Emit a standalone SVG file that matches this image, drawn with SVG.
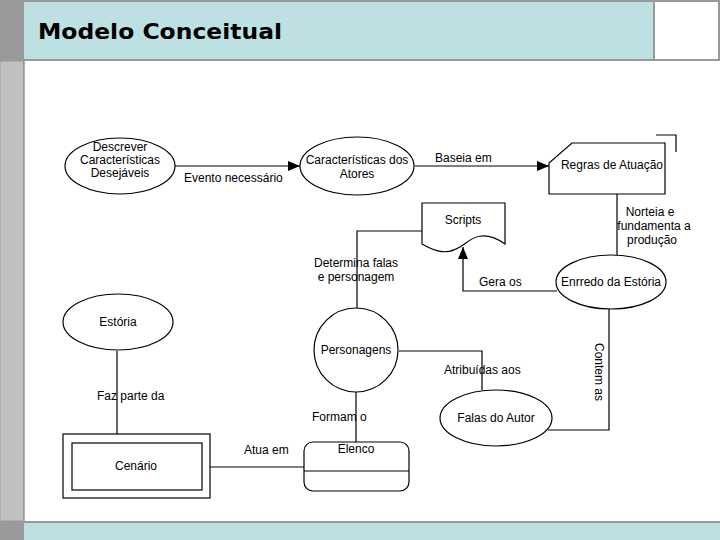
<svg xmlns="http://www.w3.org/2000/svg" width="720" height="540" viewBox="0 0 720 540">
<style>
.ln{fill:none;stroke:#000;stroke-width:1.2}
.shp{fill:#fff;stroke:#000;stroke-width:1.2}
.t{font-family:"Liberation Sans",Arial,sans-serif;font-size:12px;fill:#000;text-anchor:middle}
.tl{font-family:"Liberation Sans",Arial,sans-serif;font-size:12px;fill:#000}
</style>
<defs>
<marker id="arr" viewBox="0 0 12 10" refX="12" refY="5" markerWidth="12" markerHeight="10" markerUnits="userSpaceOnUse" orient="auto">
<path d="M0,0 L12,5 L0,10 Z" fill="#000"/>
</marker>
</defs>
<g id="frame">
<rect x="0" y="0" width="720" height="540" fill="#fff"/>
<rect x="0" y="0" width="24" height="61" fill="#999"/>
<rect x="0" y="61" width="24" height="460" fill="#c0c0c0" stroke="#999" stroke-width="1"/>
<rect x="0" y="521" width="24" height="19" fill="#999"/>
<rect x="24" y="2" width="630" height="57" fill="#bde0e3"/>
<rect x="0" y="0" width="720" height="2" fill="#999"/>
<rect x="0" y="59" width="720" height="2" fill="#999"/>
<rect x="653" y="0" width="2" height="60" fill="#999"/>
<rect x="718" y="0" width="2" height="60" fill="#999"/>
<rect x="24" y="521" width="696" height="2" fill="#999"/>
<rect x="24" y="523" width="696" height="17" fill="#bde0e3"/>
<rect x="23" y="61" width="1.5" height="460" fill="#999"/>
<text x="38" y="39" font-family="DejaVu Sans,Verdana,sans-serif" font-weight="bold" font-size="22" textLength="244" lengthAdjust="spacingAndGlyphs" fill="#000">Modelo Conceitual</text>
</g>
<g id="connectors">
<line class="ln" x1="175" y1="166" x2="300" y2="166" marker-end="url(#arr)"/>
<text class="tl" x="184" y="182">Evento necessário</text>
<line class="ln" x1="415" y1="166" x2="549" y2="166" marker-end="url(#arr)"/>
<text class="tl" x="435" y="162">Baseia em</text>
<line class="ln" x1="617" y1="194" x2="617" y2="255"/>
<text class="t" x="650" y="216">Norteia e</text>
<text class="t" x="654" y="230">fundamenta a</text>
<text class="t" x="652" y="244">produção</text>
<polyline class="ln" points="557,291 463,291 463,247" marker-end="url(#arr)"/>
<text class="tl" x="479" y="286">Gera os</text>
<polyline class="ln" points="422,231 357,231 357,308"/>
<text class="t" x="356" y="267">Determina falas</text>
<text class="t" x="356" y="281">e personagem</text>
<polyline class="ln" points="399,351 482,351 482,390"/>
<text class="tl" x="444" y="374">Atribuídas aos</text>
<polyline class="ln" points="548,430 609,430 609,308"/>
<text class="tl" transform="translate(595,343) rotate(90)">Contem as</text>
<line class="ln" x1="356" y1="392" x2="356" y2="442"/>
<text class="tl" x="312" y="421">Formam o</text>
<line class="ln" x1="117" y1="351" x2="117" y2="434"/>
<text class="tl" x="97" y="400">Faz parte da</text>
<line class="ln" x1="210" y1="467" x2="304" y2="467"/>
<text class="tl" x="244" y="454">Atua em</text>
</g>
<g id="n-descrever">
<ellipse class="shp" cx="120" cy="166" rx="55" ry="28"/>
<text class="t" x="120" y="151">Descrever</text>
<text class="t" x="120" y="164">Características</text>
<text class="t" x="120" y="177">Desejáveis</text>
</g>
<g id="n-caracteristicas">
<ellipse class="shp" cx="357" cy="166" rx="57" ry="29"/>
<text class="t" x="357" y="164">Características dos</text>
<text class="t" x="357" y="178">Atores</text>
</g>
<g id="n-regras">
<path class="shp" d="M572,143 H665 V194 H549 V163 Z"/>
<polyline class="ln" points="656,135 676,135 676,152"/>
<text class="t" x="612" y="169">Regras de Atuação</text>
</g>
<g id="n-enrredo">
<ellipse class="shp" cx="611" cy="282" rx="55" ry="27"/>
<text class="t" x="611" y="286">Enrredo da Estória</text>
</g>
<g id="n-scripts">
<path class="shp" d="M422,203 H505 V244 C482,228 470,240 463,245 C448,256 436,252 422,244 Z"/>
<text class="t" x="463" y="224">Scripts</text>
</g>
<g id="n-personagens">
<circle class="shp" cx="356" cy="350" r="42"/>
<text class="t" x="356" y="354">Personagens</text>
</g>
<g id="n-falas">
<ellipse class="shp" cx="496" cy="418" rx="56" ry="28"/>
<text class="t" x="496" y="422">Falas do Autor</text>
</g>
<g id="n-estoria">
<ellipse class="shp" cx="118" cy="322" rx="55" ry="28"/>
<text class="t" x="118" y="326">Estória</text>
</g>
<g id="n-cenario">
<rect class="shp" x="63" y="434" width="147" height="64"/>
<rect class="shp" x="72" y="443" width="130" height="47"/>
<text class="t" x="136" y="470">Cenário</text>
</g>
<g id="n-elenco">
<rect class="shp" x="304" y="442" width="105" height="49" rx="9"/>
<line class="ln" x1="304" y1="471" x2="409" y2="471"/>
<text class="t" x="356" y="453">Elenco</text>
</g>
</svg>
